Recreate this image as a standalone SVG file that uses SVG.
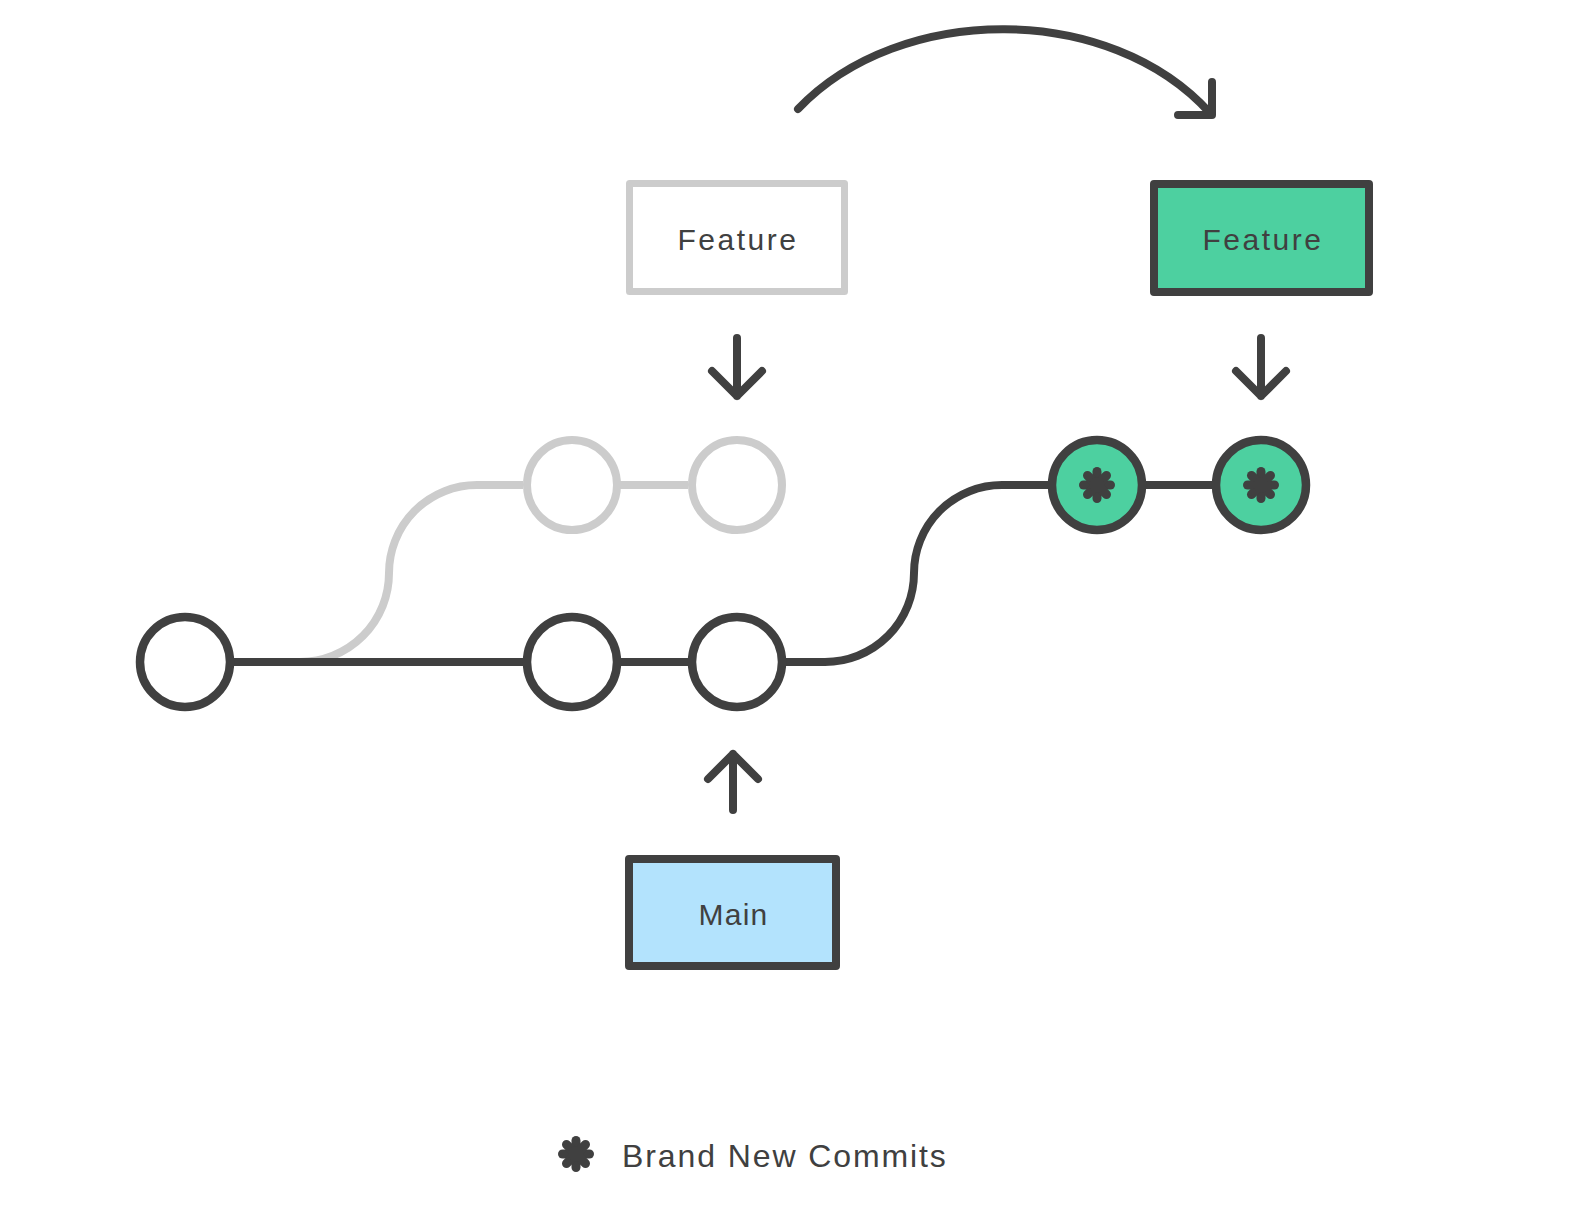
<svg xmlns="http://www.w3.org/2000/svg" width="1578" height="1205" viewBox="0 0 1578 1205">
<style>
.dk{fill:none;stroke:#404040;stroke-width:8;stroke-linecap:round;stroke-linejoin:round}
.gr{fill:none;stroke:#cccccc;stroke-width:8}
.ln{fill:none;stroke:#404040;stroke-width:8}
.cd{fill:#ffffff;stroke:#404040;stroke-width:8.5}
.cg{fill:#ffffff;stroke:#cccccc;stroke-width:8}
.cn{fill:#4dd0a0;stroke:#404040;stroke-width:8.5}
.lbl{font-family:"Liberation Sans",Arial,sans-serif;font-size:30px;fill:#404040;letter-spacing:2.5px;text-anchor:middle}
.star line{stroke:#404040;stroke-width:9;stroke-linecap:round}
</style>
<defs>
<g id="ast" class="star">
<line x1="-13.5" y1="0" x2="13.5" y2="0"/>
<line x1="0" y1="-13.5" x2="0" y2="13.5"/>
<line x1="-9.5" y1="-9.5" x2="9.5" y2="9.5"/>
<line x1="-9.5" y1="9.5" x2="9.5" y2="-9.5"/>
<circle r="8" fill="#404040"/>
</g>
</defs>
<g id="connectors">
<path class="gr" d="M300 662 A89 89 0 0 0 389 573 A88 88 0 0 1 477 485 L523 485"/>
<path class="gr" d="M617 485 L688 485"/>
<path class="ln" d="M234 662 L523 662 M617 662 L688 662"/>
<path class="ln" d="M785 662 L825 662 A89 89 0 0 0 914 573 A88 88 0 0 1 1002 485 L1050 485"/>
<path class="ln" d="M1144 485 L1214 485"/>
<path class="dk" d="M798 109 C900 2 1110 2 1210 113"/>
<path class="dk" d="M1212 82 L1212 115 L1178 115"/>
<path class="dk" d="M737 338 L737 396 M712 371 L737 396 L762 371"/>
<path class="dk" d="M1261 338 L1261 396 M1236 371 L1261 396 L1286 371"/>
<path class="dk" d="M733 810 L733 754 M708 779 L733 754 L758 779"/>
</g>
<g id="c1"><circle class="cd" cx="185" cy="662" r="45"/></g>
<g id="c2"><circle class="cd" cx="572" cy="662" r="45"/></g>
<g id="c3"><circle class="cd" cx="737" cy="662" r="45"/></g>
<g id="g1"><circle class="cg" cx="572" cy="485" r="45"/></g>
<g id="g2"><circle class="cg" cx="737" cy="485" r="45"/></g>
<g id="n1"><circle class="cn" cx="1097" cy="485" r="45"/><use href="#ast" x="1097" y="485"/></g>
<g id="n2"><circle class="cn" cx="1261" cy="485" r="45"/><use href="#ast" x="1261" y="485"/></g>
<g id="featureOld">
<rect x="629.5" y="183.5" width="215" height="108" fill="#ffffff" stroke="#cccccc" stroke-width="7" stroke-linejoin="round"/>
<text class="lbl" x="738" y="250">Feature</text>
</g>
<g id="featureNew">
<rect x="1154" y="184" width="215" height="108" fill="#4dd0a0" stroke="#404040" stroke-width="8" stroke-linejoin="round"/>
<text class="lbl" x="1263" y="250">Feature</text>
</g>
<g id="main">
<rect x="629" y="859" width="207" height="107" fill="#b3e3fd" stroke="#404040" stroke-width="8" stroke-linejoin="round"/>
<text class="lbl" x="733.5" y="925" style="letter-spacing:1.3px">Main</text>
</g>
<g id="legend">
<use href="#ast" x="576" y="1154"/>
<text x="622" y="1167" font-family="Liberation Sans, Arial, sans-serif" font-size="32" fill="#404040" letter-spacing="1.9">Brand New Commits</text>
</g>
</svg>
